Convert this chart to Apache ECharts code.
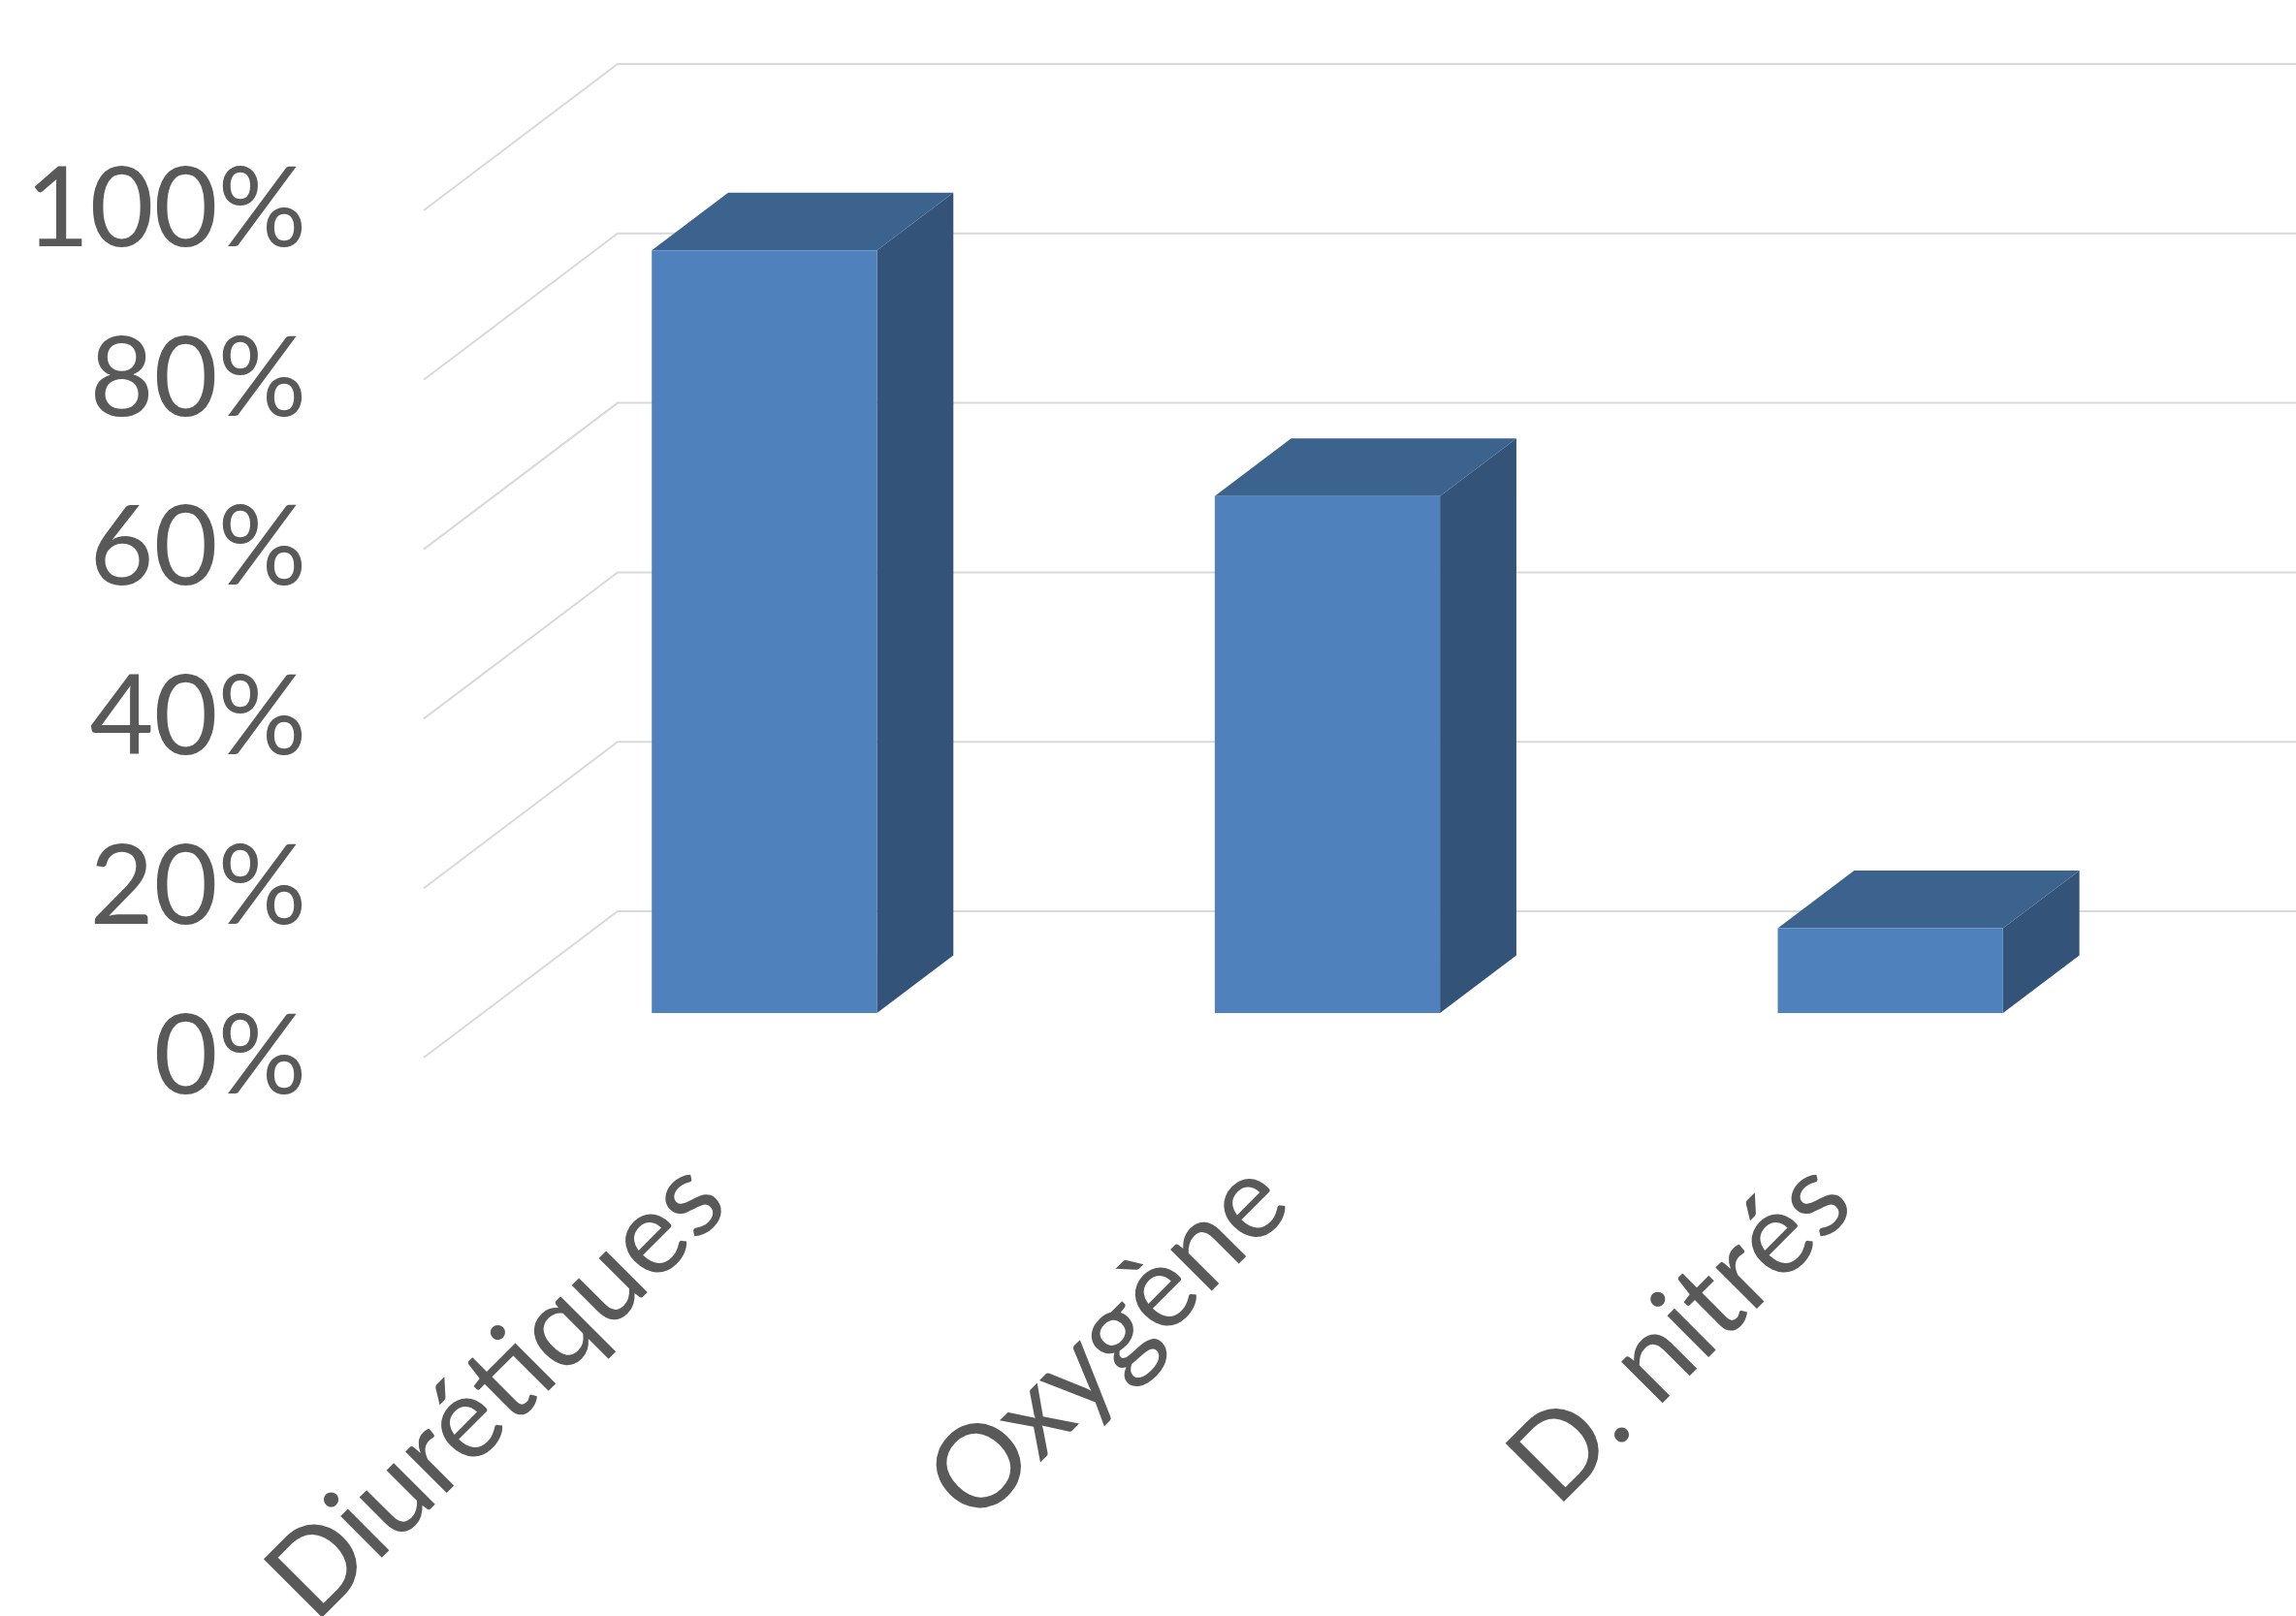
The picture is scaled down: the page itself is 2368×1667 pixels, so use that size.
<!DOCTYPE html>
<html>
<head>
<meta charset="utf-8">
<script src="https://cdn.jsdelivr.net/npm/echarts@6/dist/echarts.min.js"></script>
<style>
  html, body { margin: 0; padding: 0; background: #ffffff; }
  #chart { width: 2368px; height: 1667px; }
</style>
</head>
<body>
<div id="chart"></div>
<script>
// ---- data ----
const categories = ['Diurétiques', 'Oxygène', 'D. nitrés'];
const values = [0.90, 0.61, 0.10];
const yTicks = [0, 0.2, 0.4, 0.6, 0.8, 1.0];

// ---- 3D projection style constants (pixels / fractions) ----
const DEPTH_DX = 200;     // horizontal shift from front floor edge to back wall
const DEPTH_DY = -151;    // vertical shift from front floor edge to back wall
const BAR_F0 = 0.305;     // bar front face depth fraction
const BAR_F1 = 0.699;     // bar back face depth fraction
const BAR_WIDTH_RATIO = 0.4;

const COLOR_FRONT = '#4F81BD';
const COLOR_TOP = '#3C628E';
const COLOR_SIDE = '#335379';
const GRID_COLOR = '#D9D9D9';
const TEXT_COLOR = '#595959';
const FONT = 'Lato, "Open Sans", sans-serif';

const chart = echarts.init(document.getElementById('chart'), null, { renderer: 'canvas' });

const wallData = yTicks.map(v => [0, v]);
const barData = values.map((v, i) => [i, v]);

const option = {
  backgroundColor: '#ffffff',
  animation: false,
  grid: { left: 437, right: 189, top: 217, bottom: 576, containLabel: false, outerBoundsMode: 'none' },
  xAxis: {
    type: 'category',
    data: categories,
    boundaryGap: true,
    axisLine: { show: false },
    axisTick: { show: false },
    splitLine: { show: false },
    axisLabel: {
      rotate: 45,
      margin: 128,
      interval: 0,
      color: TEXT_COLOR,
      fontFamily: FONT,
      fontSize: 119
    }
  },
  yAxis: {
    type: 'value',
    min: 0,
    max: 1,
    interval: 0.2,
    axisLine: { show: false },
    axisTick: { show: false },
    splitLine: { show: false },
    axisLabel: {
      margin: 121,
      color: TEXT_COLOR,
      fontFamily: FONT,
      fontSize: 114,
      formatter: v => Math.round(v * 100) + '%'
    }
  },
  series: [
    {
      type: 'custom',
      name: 'walls',
      silent: true,
      clip: false,
      z: 1,
      data: wallData,
      encode: { x: 0, y: 1 },
      renderItem: function (params, api) {
        const cs = params.coordSys;
        const y = api.coord([0, api.value(1)])[1];
        const x0 = cs.x;
        const x1 = cs.x + DEPTH_DX;
        const y1 = y + DEPTH_DY;
        const x2 = cs.x + cs.width + DEPTH_DX;
        return {
          type: 'polyline',
          shape: { points: [[x0, y], [x1, y1], [x2, y1]] },
          style: { stroke: GRID_COLOR, lineWidth: 2, fill: null }
        };
      }
    },
    {
      type: 'custom',
      name: 'bars',
      clip: false,
      z: 2,
      data: barData,
      encode: { x: 0, y: 1 },
      renderItem: function (params, api) {
        const i = api.value(0);
        const v = api.value(1);
        const base = api.coord([i, 0]);
        const top = api.coord([i, v]);
        const band = api.size([1, 0])[0];
        const w = band * BAR_WIDTH_RATIO;
        const ox0 = DEPTH_DX * BAR_F0, oy0 = DEPTH_DY * BAR_F0;
        const ox1 = DEPTH_DX * BAR_F1, oy1 = DEPTH_DY * BAR_F1;
        const L = base[0] - w / 2, R = base[0] + w / 2;
        const yb = base[1], yt = top[1];
        return {
          type: 'group',
          children: [
            {
              type: 'polygon',
              shape: { points: [[R + ox0, yt + oy0], [R + ox1, yt + oy1], [R + ox1, yb + oy1], [R + ox0, yb + oy0]] },
              style: { fill: COLOR_SIDE }
            },
            {
              type: 'polygon',
              shape: { points: [[L + ox0, yt + oy0], [R + ox0, yt + oy0], [R + ox1, yt + oy1], [L + ox1, yt + oy1]] },
              style: { fill: COLOR_TOP }
            },
            {
              type: 'rect',
              shape: { x: L + ox0, y: yt + oy0, width: w, height: yb - yt },
              style: { fill: COLOR_FRONT }
            }
          ]
        };
      }
    }
  ]
};

chart.setOption(option);
</script>
</body>
</html>
